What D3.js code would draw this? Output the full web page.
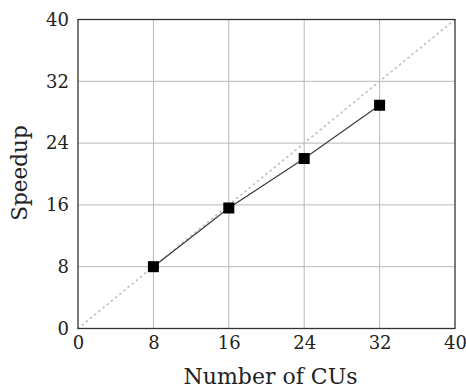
<!DOCTYPE html>
<html>
<head>
<meta charset="utf-8">
<title>Speedup vs CUs</title>
<style>
  body { margin: 0; background: #fff; }
  text { font-family: "DejaVu Serif", serif; fill: #222; }
</style>
<script src="https://d3js.org/d3.v7.min.js"></script>
</head>
<body>
<script>
  // data
  var cus = [8, 16, 24, 32];
  var speedup = [8.0, 15.6, 22.0, 28.9];
  var xTicks = [0, 8, 16, 24, 32, 40];
  var yTicks = [0, 8, 16, 24, 32, 40];
  var ideal = [0, 40];

  var w = 466, h = 388;
  var m = {left: 78, right: 11, top: 19.5, bottom: 59.5};

  var svg = d3.select("body").append("svg")
              .attr("width", w)
              .attr("height", h);

  var x = d3.scaleLinear().domain([0, 40]).range([m.left, w - m.right]);
  var y = d3.scaleLinear().domain([0, 40]).range([h - m.bottom, m.top]);

  // grid
  svg.append("g").selectAll("line")
     .data(xTicks.slice(1, -1))
     .enter().append("line")
     .attr("x1", function (d) { return x(d); })
     .attr("x2", function (d) { return x(d); })
     .attr("y1", y(0)).attr("y2", y(40))
     .attr("stroke", "#b8b8b8").attr("stroke-width", 1);
  svg.append("g").selectAll("line")
     .data(yTicks.slice(1, -1))
     .enter().append("line")
     .attr("y1", function (d) { return y(d); })
     .attr("y2", function (d) { return y(d); })
     .attr("x1", x(0)).attr("x2", x(40))
     .attr("stroke", "#b8b8b8").attr("stroke-width", 1);

  // ideal speedup, dotted
  svg.append("line")
     .attr("x1", x(ideal[0])).attr("y1", y(ideal[0]))
     .attr("x2", x(ideal[1])).attr("y2", y(ideal[1]))
     .attr("stroke", "#bdbdbd").attr("stroke-width", 1.6)
     .attr("stroke-dasharray", "1.2,4.2").attr("stroke-linecap", "round");

  // measured
  var pts = cus.map(function (c, i) { return [c, speedup[i]]; });
  svg.append("path")
     .datum(pts)
     .attr("fill", "none")
     .attr("stroke", "#3a3a3a")
     .attr("stroke-width", 1.2)
     .attr("d", d3.line()
        .x(function (d) { return x(d[0]); })
        .y(function (d) { return y(d[1]); }));
  svg.selectAll("rect.mk")
     .data(pts)
     .enter().append("rect")
     .attr("class", "mk")
     .attr("x", function (d) { return x(d[0]) - 5.5; })
     .attr("y", function (d) { return y(d[1]) - 5.5; })
     .attr("width", 11).attr("height", 11)
     .attr("fill", "#000");

  // frame
  svg.append("rect")
     .attr("x", x(0)).attr("y", y(40))
     .attr("width", x(40) - x(0)).attr("height", y(0) - y(40))
     .attr("fill", "none").attr("stroke", "#333").attr("stroke-width", 1.3);

  // axes (labels only)
  var xAxis = svg.append("g")
     .attr("transform", "translate(0," + y(0) + ")")
     .call(d3.axisBottom(x).tickValues(xTicks).tickSize(0).tickPadding(8));
  var yAxis = svg.append("g")
     .attr("transform", "translate(" + x(0) + ",0)")
     .call(d3.axisLeft(y).tickValues(yTicks).tickSize(0).tickPadding(9));
  [xAxis, yAxis].forEach(function (a) {
    a.select(".domain").remove();
    a.selectAll("text")
     .attr("font-family", "DejaVu Serif")
     .attr("font-size", 18)
     .attr("fill", "#222");
  });

  svg.append("text")
     .attr("x", (x(0) + x(40)) / 2 + 4)
     .attr("y", 384)
     .attr("text-anchor", "middle")
     .attr("font-size", 22)
     .text("Number of CUs");

  svg.append("text")
     .attr("transform", "translate(27," + (y(20) - 1) + ") rotate(-90)")
     .attr("text-anchor", "middle")
     .attr("font-size", 21.5)
     .text("Speedup");
</script>
</body>
</html>
